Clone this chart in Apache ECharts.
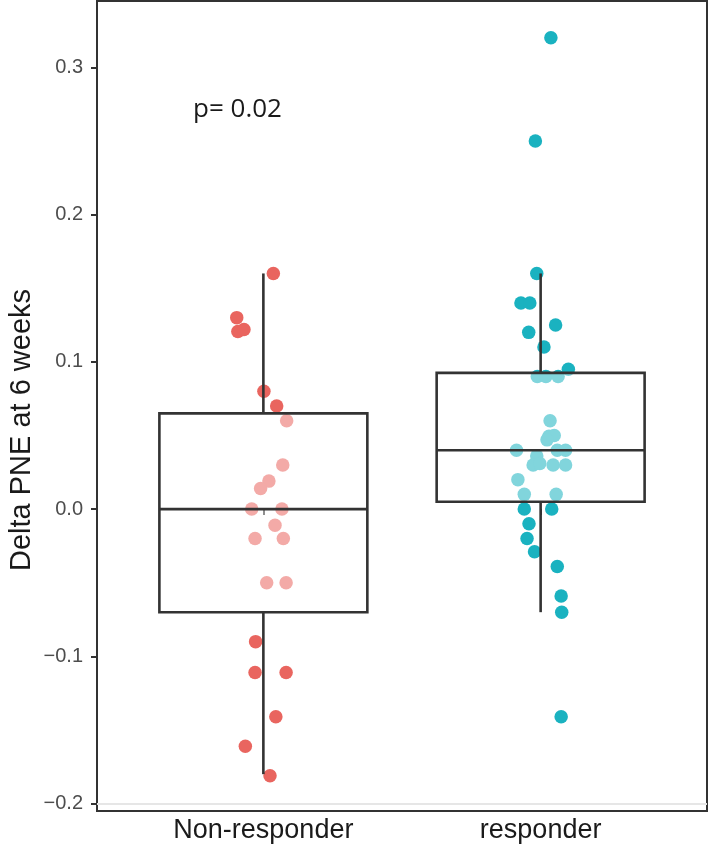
<!DOCTYPE html>
<html>
<head>
<meta charset="utf-8">
<script src="https://cdn.jsdelivr.net/npm/echarts@6/dist/echarts.min.js"></script>
<style>
html,body{margin:0;padding:0;background:#fff;}
#chart{width:709px;height:866px;}
</style>
</head>
<body>
<div id="chart"></div>
<script>
// Categories and tick labels
const categories = ['Non-responder', 'responder'];
const categoryPositions = [1, 2];
const yTicks = [-0.2, -0.1, 0, 0.1, 0.2, 0.3];
const yTitle = 'Delta PNE at 6 weeks';
const pLabel = 'p= 0.02';

// Box summaries: [position, lower whisker, Q1, median, Q3, upper whisker]
const nonResponderBox = [1, -0.18, -0.07, 0, 0.065, 0.16];
const responderBox = [2, -0.07, 0.005, 0.04, 0.0925, 0.16];

// Jittered points (x = jittered category position, y = value)
const nonResponderX = [1.036, 0.904, 0.908, 0.930, 1.002, 1.048, 1.084, 1.070, 1.020, 0.990, 0.958, 1.067, 1.042, 0.970, 1.072, 1.012, 1.082, 0.972, 0.970, 1.082, 1.045, 0.935, 1.024];
const nonResponderY = [0.16, 0.130, 0.1206, 0.122, 0.08, 0.070, 0.06, 0.03, 0.019, 0.014, 0, 0, -0.011, -0.02, -0.02, -0.05, -0.05, -0.09, -0.111, -0.111, -0.141, -0.161, -0.181];
const responderX = [2.037, 1.981, 1.986, 1.929, 1.961, 2.054, 1.957, 2.012, 2.100, 1.988, 2.019, 2.063, 2.034, 2.030, 2.049, 2.023, 1.913, 2.060, 2.090, 1.986, 1.973, 1.997, 2.045, 2.090, 1.918, 1.941, 2.056, 1.941, 2.040, 1.958, 1.951, 1.978, 2.060, 2.074, 2.076, 2.074];
const responderY = [0.32, 0.25, 0.16, 0.14, 0.14, 0.125, 0.12, 0.11, 0.095, 0.09, 0.09, 0.09, 0.06, 0.0495, 0.05, 0.047, 0.04, 0.04, 0.04, 0.036, 0.03, 0.031, 0.03, 0.03, 0.02, 0.01, 0.01, 0, 0, -0.01, -0.02, -0.029, -0.039, -0.059, -0.07, -0.141];

const redColor = '#E9655F';
const tealColor = '#1AB2C0';

const zip = (xs, ys) => xs.map((x, i) => [x, ys[i]]);

const chart = echarts.init(document.getElementById('chart'), null, {renderer: 'canvas'});

function renderBox(params, api) {
  const x = api.value(0);
  const lo = api.value(1), q1 = api.value(2), med = api.value(3), q3 = api.value(4), hi = api.value(5);
  const half = api.size([0.75, 0])[0] / 2;
  const pLo = api.coord([x, lo]);
  const pQ1 = api.coord([x, q1]);
  const pMed = api.coord([x, med]);
  const pQ3 = api.coord([x, q3]);
  const pHi = api.coord([x, hi]);
  const stroke = {stroke: '#333333', lineWidth: 2.6};
  return {
    type: 'group',
    children: [
      {type: 'line', shape: {x1: pQ3[0], y1: pQ3[1], x2: pHi[0], y2: pHi[1]}, style: stroke},
      {type: 'line', shape: {x1: pQ1[0], y1: pQ1[1], x2: pLo[0], y2: pLo[1]}, style: stroke},
      {type: 'rect', shape: {x: pQ3[0] - half, y: pQ3[1], width: half * 2, height: pQ1[1] - pQ3[1]},
        style: {fill: 'rgba(255,255,255,0.45)', stroke: '#333333', lineWidth: 2.6}},
      {type: 'line', shape: {x1: pMed[0] - half, y1: pMed[1], x2: pMed[0] + half, y2: pMed[1]}, style: stroke}
    ]
  };
}

const option = {
  animation: false,
  backgroundColor: '#ffffff',
  grid: {left: 97, top: 1, width: 610, height: 810, show: true, borderColor: '#333333', borderWidth: 2, backgroundColor: 'transparent'},
  xAxis: {
    type: 'value', min: 0.4, max: 2.6,
    axisLine: {show: false},
    splitLine: {show: false},
    axisTick: {show: true, customValues: categoryPositions, length: 6, inside: false, lineStyle: {color: '#333333', width: 2}},
    axisLabel: {
      show: true, customValues: categoryPositions, margin: 6,
      formatter: v => categories[Math.round(v) - 1] || '',
      color: '#1a1a1a', fontSize: 27, fontFamily: '"Liberation Sans", Arial, sans-serif'
    }
  },
  yAxis: {
    type: 'value', min: -0.205, max: 0.345,
    axisLine: {show: false},
    splitLine: {show: false},
    axisTick: {show: true, customValues: yTicks, length: 6, lineStyle: {color: '#333333', width: 2}},
    axisLabel: {
      show: true, customValues: yTicks, margin: 14,
      formatter: v => (v < 0 ? '\u2212' : '') + Math.abs(v).toFixed(1),
      color: '#4d4d4d', fontSize: 20, fontFamily: '"Liberation Sans", Arial, sans-serif'
    }
  },
  graphic: [
    {type: 'text', x: 22, y: 430, rotation: Math.PI / 2,
      style: {text: yTitle, fill: '#1a1a1a', font: '29px "Liberation Sans", Arial, sans-serif', textAlign: 'center', textVerticalAlign: 'middle'}},
    {type: 'text', x: 193, y: 110,
      style: {text: pLabel, fill: '#1a1a1a', font: '26px "Open Sans", sans-serif', textAlign: 'left', textVerticalAlign: 'middle'}}
  ],
  series: [
    {
      type: 'scatter', name: 'Non-responder', z: 2,
      symbolSize: 13.5, itemStyle: {color: redColor, opacity: 1},
      data: zip(nonResponderX, nonResponderY),
      markLine: {silent: true, symbol: 'none', label: {show: false},
        lineStyle: {color: '#e6e6e6', width: 2, type: 'solid'},
        data: [{yAxis: -0.2}]}
    },
    {
      type: 'scatter', name: 'responder', z: 2,
      symbolSize: 13.5, itemStyle: {color: tealColor, opacity: 1},
      data: zip(responderX, responderY)
    },
    {
      type: 'custom', name: 'box', z: 5, silent: true,
      renderItem: renderBox,
      encode: {x: 0, y: [1, 2, 3, 4, 5]},
      data: [nonResponderBox, responderBox]
    }
  ]
};
chart.setOption(option);
</script>
</body>
</html>
